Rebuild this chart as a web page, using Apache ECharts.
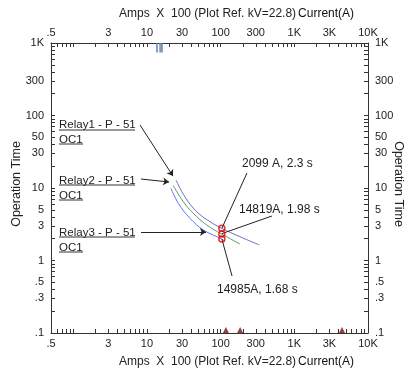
<!DOCTYPE html>
<html>
<head>
<meta charset="utf-8">
<script src="https://cdn.jsdelivr.net/npm/echarts@6.0.0/dist/echarts.min.js"></script>
<style>
  html, body { margin: 0; padding: 0; background: #fff; }
  #chart { width: 414px; height: 376px; }
</style>
</head>
<body>
<div id="chart"></div>
<script>
// curve points (Amps x 100 / seconds)
var relay1Amps = [24.8, 32.9, 47.4, 71.9, 103.5, 183, 335];
var relay1Time = [12.9, 7.52, 4.71, 3.43, 2.78, 2.13, 1.64];
var relay2Amps = [22.8, 31.2, 42.6, 64.8, 103.5, 183];
var relay2Time = [10.8, 6.47, 4.48, 3.09, 2.32, 1.69];
var relay3Amps = [21.2, 26.7, 38.4, 58.3, 103.5, 114.8];
var relay3Time = [9.91, 6.15, 3.82, 2.64, 1.98, 1.82];

// pickup marks on the top axis (relay1, relay2, relay3)
var pickupAmps = [16.0, 15.1, 13.7];
// fault current marks on the bottom axis
var faultAmps = [118, 184, 4440];
// operating points (red circles)
var opAmps = [104, 104, 104];
var opTime = [2.78, 2.32, 1.98];

var xLabelValues = [0.5, 3, 10, 30, 100, 300, 1000, 3000, 10000];
var yLabelValues = [0.1, 0.3, 0.5, 1, 3, 5, 10, 30, 50, 100, 300, 1000];

var FONT = "'Liberation Sans', Arial, sans-serif";
var colors = ["#6e6ec4", "#5a9e5a", "#6c6cff"];

// log ticks: every integer step inside each decade
function logTicks(lo, hi) {
  var out = [];
  for (var d = 0.1; d <= hi; d *= 10) {
    for (var k = 1; k <= 9; k++) {
      var v = +(k * d).toPrecision(3);
      if (v >= lo && v <= hi) out.push(v);
    }
  }
  if (out[out.length - 1] < hi) out.push(hi);
  return out;
}
var xTicks = logTicks(0.5, 10000);
var yTicks = logTicks(0.1, 1000);

function fmt(v) {
  if (v >= 1000) return Math.round(v / 1000) + "K";
  if (v < 1) return String(+v.toPrecision(2)).replace("0.", ".");
  return String(Math.round(v));
}

function pairs(xs, ys) {
  var out = [];
  for (var i = 0; i < xs.length; i++) out.push([xs[i], ys[i]]);
  return out;
}

function axisCfg(dim, pos, lo, hi, ticks, labels) {
  return {
    type: "log",
    logBase: 10,
    position: pos,
    min: lo,
    max: hi,
    axisLine: { show: true, onZero: false, lineStyle: { color: "#333", width: 1 } },
    axisTick: { show: true, inside: true, length: 4, customValues: ticks, lineStyle: { color: "#333" } },
    axisLabel: {
      customValues: labels,
      formatter: fmt,
      margin: dim === "x" ? 5 : 7,
      color: "#222",
      fontSize: 11,
      fontFamily: FONT,
    },
    splitLine: { show: false },
    minorTick: { show: false },
    minorSplitLine: { show: false },
  };
}

function curve(name, xs, ys, color) {
  return {
    name: name,
    type: "line",
    smooth: 0.4,
    showSymbol: false,
    silent: true,
    lineStyle: { color: color, width: 1 },
    data: pairs(xs, ys),
  };
}

// pickup ticks at the top edge
var pickupSeries = pickupAmps.map(function (a, i) {
  return {
    type: "line",
    showSymbol: false,
    silent: true,
    lineStyle: { color: colors[i], width: 1.5 },
    data: [[a, 1000], [a, 740]],
  };
});

function arrow(x1, y1, x2, y2, head) {
  return [
    { coord: [x1, y1], symbol: "none" },
    { coord: [x2, y2], symbol: head ? "arrow" : "none", symbolSize: 6 },
  ];
}

var txt = function (s, x, y, size, extra) {
  var st = { text: s, x: x, y: y, font: (size || 12) + "px " + FONT, fill: "#222", verticalAlign: "middle", align: "left" };
  for (var k in extra || {}) st[k] = extra[k];
  return { type: "text", style: st, silent: true };
};
var uline = function (x1, x2, y) {
  return { type: "line", shape: { x1: x1, y1: y, x2: x2, y2: y }, style: { stroke: "#333", lineWidth: 1 }, silent: true };
};

var option = {
  animation: false,
  backgroundColor: "#fff",
  grid: { left: 51, right: 46, top: 43, bottom: 43, containLabel: false },
  xAxis: [
    axisCfg("x", "bottom", 0.5, 10000, xTicks, xLabelValues),
    axisCfg("x", "top", 0.5, 10000, xTicks, xLabelValues),
  ],
  yAxis: [
    axisCfg("y", "left", 0.1, 1000, yTicks, yLabelValues),
    axisCfg("y", "right", 0.1, 1000, yTicks, yLabelValues),
  ],
  series: [
    curve("Relay1 - P - 51", relay1Amps, relay1Time, colors[0]),
    curve("Relay2 - P - 51", relay2Amps, relay2Time, colors[1]),
    curve("Relay3 - P - 51", relay3Amps, relay3Time, colors[2]),
    {
      type: "scatter",
      silent: true,
      symbol: "triangle",
      symbolSize: 6,
      symbolOffset: [0, -3],
      itemStyle: { color: "#7a1010" },
      data: faultAmps.map(function (a) { return [a, 0.1]; }),
    },
    {
      type: "scatter",
      silent: true,
      symbol: "circle",
      symbolSize: 6,
      z: 5,
      itemStyle: { color: "rgba(255,255,255,0)", borderColor: "#e00000", borderWidth: 1.5 },
      data: pairs(opAmps, opTime),
      markLine: {
        silent: true,
        animation: false,
        label: { show: false },
        lineStyle: { color: "#222", width: 1, type: "solid" },
        data: [
          arrow(8.07, 74, 22.6, 14.6, true),
          arrow(8.32, 13.3, 20.0, 12.1, true),
          arrow(8.32, 2.47, 63.4, 2.47, true),
          arrow(228, 16.1, 104, 2.78, false),
          arrow(498, 4.11, 104, 2.35, false),
          arrow(143, 0.611, 104, 1.98, false),
        ],
      },
    },
  ].concat(pickupSeries),
  graphic: [
    // axis titles
    {
      type: "text", silent: true, x: 119, y: 14,
      style: {
        text: "{a|Amps  X  100 (Plot Ref. kV=22.8)}{b|Current(A)}",
        verticalAlign: "middle",
        rich: {
          a: { font: "12px " + FONT, fill: "#222" },
          b: { font: "12px " + FONT, fill: "#111", padding: [0, 0, 0, 2] },
        },
      },
    },
    {
      type: "text", silent: true, x: 119, y: 362,
      style: {
        text: "{a|Amps  X  100 (Plot Ref. kV=22.8)}{b|Current(A)}",
        verticalAlign: "middle",
        rich: {
          a: { font: "12px " + FONT, fill: "#222" },
          b: { font: "12px " + FONT, fill: "#111", padding: [0, 0, 0, 2] },
        },
      },
    },
    {
      type: "text", silent: true, x: 17, y: 184, rotation: Math.PI / 2,
      style: { text: "Operation Time", font: "12.5px " + FONT, fill: "#222", align: "center", verticalAlign: "middle" },
    },
    {
      type: "text", silent: true, x: 398, y: 184, rotation: -Math.PI / 2,
      style: { text: "Operation Time", font: "12.5px " + FONT, fill: "#222", align: "center", verticalAlign: "middle" },
    },
    // relay labels
    txt("Relay1 - P - 51", 59, 124.5, 11.5), uline(59, 135, 130),
    txt("OC1", 59, 139.5, 11.5), uline(59, 83, 144),
    txt("Relay2 - P - 51", 59, 180.5, 11.5), uline(59, 135, 185),
    txt("OC1", 59, 195.5, 11.5), uline(59, 83, 200),
    txt("Relay3 - P - 51", 59, 232.5, 11.5), uline(59, 135, 237),
    txt("OC1", 59, 247.5, 11.5), uline(59, 83, 252),
    // operating point notes
    txt("2099 A, 2.3 s", 242, 164, 12),
    txt("14819A, 1.98 s", 239, 210, 12),
    txt("14985A, 1.68 s", 217, 289.5, 12),
  ],
};

var chart = echarts.init(document.getElementById("chart"));
chart.setOption(option);
</script>
</body>
</html>
